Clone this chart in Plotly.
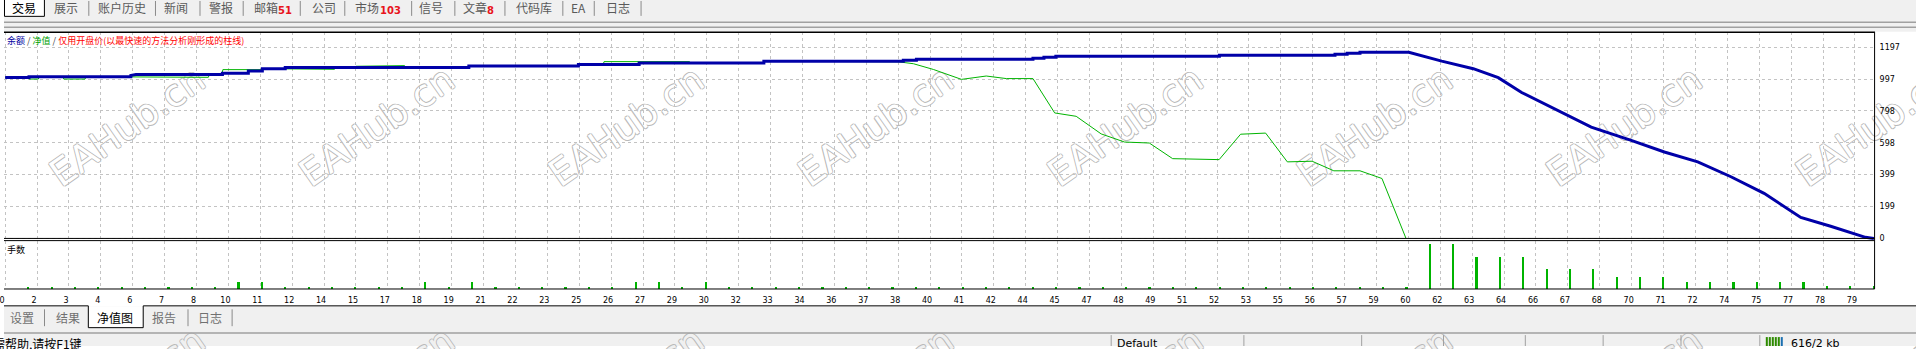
import plotly.graph_objects as go

W, H = 1916, 349

# ---------------- data ----------------
X_LABELS = [0, 2, 3, 4, 6, 7, 8, 10, 11, 12, 14, 15, 17, 18, 19, 21, 22, 23, 25, 26,
            27, 29, 30, 32, 33, 34, 36, 37, 38, 40, 41, 42, 44, 45, 47, 48, 49, 51, 52, 53,
            55, 56, 57, 59, 60, 62, 63, 64, 66, 67, 68, 70, 71, 72, 74, 75, 77, 78, 79]
GRID_STEP = 1.3653          # trades per grid cell of the tester graph
Y_TICKS = [0, 199, 399, 598, 798, 997, 1197]

TRADES = list(range(1, 81))
LOTS = [0.01, 0.01, 0.01, 0.01, 0.01, 0.01, 0.01, 0.01, 0.01, 0.03,
        0.03, 0.01, 0.01, 0.01, 0.01, 0.01, 0.01, 0.03, 0.01, 0.03,
        0.01, 0.01, 0.01, 0.01, 0.01, 0.01, 0.03, 0.03, 0.01, 0.03,
        0.01, 0.01, 0.01, 0.01, 0.01, 0.01, 0.01, 0.01, 0.01, 0.01,
        0.01, 0.01, 0.01, 0.01, 0.01, 0.01, 0.01, 0.01, 0.01, 0.01,
        0.01, 0.01, 0.01, 0.01, 0.01, 0.01, 0.01, 0.01, 0.01, 0.01,
        0.18, 0.18, 0.13, 0.13, 0.13, 0.08, 0.08, 0.08, 0.047, 0.047,
        0.047, 0.03, 0.03, 0.03, 0.03, 0.03, 0.03, 0.013, 0.013, 0.013]

BALANCE = [(0.00, 1006), (1.02, 1006), (1.02, 1012), (5.38, 1012), (5.38, 1020), (5.60, 1026),
           (9.30, 1026), (9.30, 1034), (10.41, 1034), (10.41, 1047), (11.01, 1047), (11.01, 1062),
           (11.99, 1062), (11.99, 1070), (19.85, 1070), (19.85, 1078), (24.54, 1078), (24.54, 1088),
           (27.14, 1088), (27.14, 1098), (32.48, 1098), (32.48, 1109), (38.45, 1109), (38.45, 1115),
           (39.01, 1115), (39.01, 1121), (44.00, 1121), (44.00, 1127), (44.47, 1127), (44.47, 1134),
           (44.98, 1134), (44.98, 1140), (51.98, 1140), (51.98, 1146), (56.93, 1146), (56.93, 1152),
           (57.45, 1152), (57.45, 1158), (58.00, 1158), (58.00, 1165), (60.09, 1165), (61.50, 1109),
           (62.85, 1062), (63.92, 1006), (64.92, 913), (66.06, 830), (67.90, 696), (69.61, 613),
           (71.03, 541), (72.46, 479), (73.88, 386), (75.30, 282), (76.87, 131), (78.15, 76),
           (79.64, 7), (80.00, 0)]

EQUITY = [(0.00, 1006), (0.98, 1006), (1.02, 997), (1.42, 997), (1.46, 1012), (2.47, 1012),
          (2.51, 997), (3.42, 997), (3.46, 1012), (5.60, 1012), (5.64, 1008), (8.70, 1008),
          (8.74, 1026), (9.28, 1026), (9.32, 1056), (11.00, 1056), (11.04, 1062), (11.98, 1062),
          (12.02, 1058), (14.10, 1058), (14.14, 1070), (14.98, 1070), (15.02, 1077), (17.10, 1081),
          (17.14, 1070), (19.85, 1070), (19.89, 1078), (24.54, 1078), (24.58, 1088), (25.60, 1088),
          (25.64, 1106), (29.30, 1106), (29.34, 1098), (32.48, 1098), (32.52, 1109), (38.20, 1109),
          (38.24, 1105), (38.88, 1093), (39.74, 1057), (40.94, 995), (42.00, 1016), (42.86, 1000),
          (44.00, 1000), (44.93, 785), (45.85, 764), (46.92, 654), (47.92, 603), (48.98, 597),
          (49.98, 499), (51.97, 493), (52.89, 652), (53.96, 659), (54.89, 479), (55.95, 483),
          (56.88, 423), (58.00, 423), (58.94, 375), (59.97, 0)]

TOP_TABS = ["交易", "展示", "账户历史", "新闻", "警报", "邮箱", "公司", "市场", "信号", "文章", "代码库", "EA", "日志"]
TOP_BADGES = [("51", 5), ("103", 7), ("8", 9)]
BOTTOM_TABS = ["设置", "结果", "净值图", "报告", "日志"]
LEGEND_TEXT = ("余额", "净值", "仅用开盘价(以最快速的方法分析刚形成的柱线)")
LOTS_TITLE = "手数"
STATUS_HELP = "如需帮助,请按F1键"
STATUS_PROFILE = "Default"
STATUS_TRAFFIC = "616/2 kb"
WATERMARK = "EAHub.cn"

# ---------------- layout geometry (pixels) ----------------
PLOT_R = 1874.5
X_RANGE = [-0.05, 80.03]
Y_PIX_PER_UNIT = 0.16124
Y_ZERO_PX = 240.5
TOP_PANEL = (32.5, 242.0)
LOT_PANEL = (243.0, 291.5)
LOT_RANGE = [0, 0.194]

CJK = "Noto Sans CJK SC"
NUM = "DejaVu Sans"
GRID = "#c3c3c3"


def fx(x):
    return x / W


def fy(y):
    return 1 - y / H


fig = go.Figure()

fig.add_trace(go.Scatter(x=[p[0] for p in EQUITY], y=[p[1] for p in EQUITY], mode="lines",
                         line=dict(color="#00b400", width=1), xaxis="x2", yaxis="y",
                         hoverinfo="skip", showlegend=False))
fig.add_trace(go.Scatter(x=[p[0] for p in BALANCE], y=[p[1] for p in BALANCE], mode="lines",
                         line=dict(color="#0000a8", width=3), xaxis="x2", yaxis="y",
                         hoverinfo="skip", showlegend=False))
fig.add_trace(go.Bar(x=TRADES, y=LOTS, width=0.07, marker=dict(color="#00b400", line=dict(width=0)),
                     xaxis="x", yaxis="y2", hoverinfo="skip", showlegend=False))

tickvals = [j * GRID_STEP for j in range(len(X_LABELS))]
xdomain = [0, fx(PLOT_R)]
y_lo = (Y_ZERO_PX - TOP_PANEL[1]) / Y_PIX_PER_UNIT
y_hi = (Y_ZERO_PX - TOP_PANEL[0]) / Y_PIX_PER_UNIT

fig.update_layout(
    width=W, height=H, autosize=False,
    margin=dict(l=0, r=0, t=0, b=0, pad=0),
    paper_bgcolor="white", plot_bgcolor="white",
    showlegend=False, bargap=0,
    xaxis=dict(domain=xdomain, range=X_RANGE, anchor="y2", tickmode="array",
               tickvals=tickvals, ticktext=[str(v) for v in X_LABELS],
               showgrid=True, gridcolor=GRID, griddash="3px,3px", gridwidth=1,
               zeroline=False, showline=False, ticks="", ticklabelshift=-3,
               ticklabelstandoff=5, ticklabeloverflow="allow",
               tickfont=dict(family=NUM, size=8, color="black")),
    xaxis2=dict(domain=xdomain, matches="x", anchor="y", tickmode="array",
                tickvals=tickvals, showticklabels=False,
                showgrid=True, gridcolor=GRID, griddash="3px,3px", gridwidth=1,
                zeroline=False, showline=False, ticks=""),
    yaxis=dict(domain=[fy(TOP_PANEL[1]), fy(TOP_PANEL[0])], range=[y_lo, y_hi],
               anchor="x2", side="right", tickmode="array", tickvals=Y_TICKS,
               ticktext=[str(v) for v in Y_TICKS],
               showgrid=True, gridcolor=GRID, griddash="3px,3px", gridwidth=1,
               zeroline=False, showline=False, ticks="", ticklabelstandoff=4,
               tickfont=dict(family=NUM, size=8, color="black")),
    yaxis2=dict(domain=[fy(LOT_PANEL[1]), fy(LOT_PANEL[0])], range=LOT_RANGE,
                anchor="x", showgrid=False, zeroline=False, showticklabels=False,
                showline=False, ticks=""),
)

shapes = []


def rect(x0, y0, x1, y1, fill, line=None, layer="above"):
    shapes.append(dict(type="rect", xref="paper", yref="paper", x0=fx(x0), x1=fx(x1),
                       y0=fy(y1), y1=fy(y0), fillcolor=fill, layer=layer,
                       line=dict(width=1 if line else 0, color=line or "rgba(0,0,0,0)")))


def hline(y, x0, x1, color, width=1):
    shapes.append(dict(type="line", xref="paper", yref="paper", x0=fx(x0), x1=fx(x1),
                       y0=fy(y), y1=fy(y), line=dict(color=color, width=width)))


def vline(x, y0, y1, color, width=1):
    shapes.append(dict(type="line", xref="paper", yref="paper", x0=fx(x), x1=fx(x),
                       y0=fy(y0), y1=fy(y1), line=dict(color=color, width=width)))


# background bars (window chrome)
rect(0, 0, W, 32, "#f0f0f0", layer="below")
rect(0, 309, W, H, "#f0f0f0", layer="below")

# watermarks (outlined text, under the chart content)
for row_y, fill in ((125, "white"), (388, "#f0f0f0")):
    for k in range(8):
        cx = 122 + 250 * k
        shapes.append(dict(type="rect", xref="paper", yref="paper",
                           x0=fx(cx - 1), x1=fx(cx + 1), y0=fy(row_y + 1), y1=fy(row_y - 1),
                           layer="below", line=dict(width=0), fillcolor="rgba(0,0,0,0)",
                           label=dict(text=WATERMARK, textangle=-35, textposition="middle center",
                                      font=dict(family="DejaVu Sans", size=37, color=fill,
                                                shadow="1px 0 0 #b9b9b9, -1px 0 0 #b9b9b9, 0 1px 0 #b9b9b9, 0 -1px 0 #b9b9b9"))))

# top tab bar
rect(0.5, -1, 40.5, 16.5, "white", line="black")
for sx in [85, 151.8, 196.4, 239.7, 296.9, 341.5, 408.5, 451.8, 502, 560, 591.5, 638.4]:
    vline(sx, 1, 16, "#8a8a8a")
hline(22.5, 0, W, "#a0a0a0", 1.5)
hline(27.5, 0, W, "#a0a0a0", 1.5)

# chart frame
hline(32.5, 0, PLOT_R, "black", 1.5)
vline(PLOT_R, 32, 291.5, "black")
hline(240.5, 0, PLOT_R, "black")
hline(242.7, 0, PLOT_R, "black")
hline(291.5, 0, PLOT_R, "black")

# bottom tabs
hline(308.5, 0, 84.5, "black")
hline(308.5, 139.5, W, "black")
rect(84.5, 309, 139.5, 330.5, "white")
vline(84.5, 308.5, 330.5, "black")
vline(139.5, 308.5, 330.5, "black")
hline(330.5, 84.5, 139.5, "black")
for sx in [40.6, 184.4, 228.6]:
    vline(sx, 312, 329, "#8a8a8a")
hline(335.8, 0, W, "#a0a0a0", 1.5)

# status bar
for sx in [1109, 1242, 1360, 1442, 1524, 1602, 1680, 1759]:
    vline(sx + 0.5, 338, H, "#a0a0a0")
for i in range(6):
    vline(1766.5 + 3 * i, 340, H, "#2e8b00" if i < 5 else "#1a6fb0", 2)

fig.update_layout(shapes=shapes)


def text(x, y, s, size, color, xanchor="center", family=CJK, weight=None):
    f = dict(family=family, size=size, color=color)
    if weight:
        f["weight"] = weight
    fig.add_annotation(x=fx(x), y=fy(y), xref="paper", yref="paper", text=s, showarrow=False,
                       xanchor=xanchor, yanchor="middle", font=f, borderpad=0)


tab_x = [20, 62.5, 118.3, 172.8, 217.3, 262.3, 320.3, 364, 428, 472, 530.7, 575.8, 615.3]
for i, (name, x) in enumerate(zip(TOP_TABS, tab_x)):
    text(x, 8, name, 12, "black" if i == 0 else "#5a5a5a")
badge_x = {5: 281.5, 7: 387, 9: 488}
for s, idx in TOP_BADGES:
    text(badge_x[idx], 11, s, 10, "#e8141c", weight="bold", family="DejaVu Sans")

legend = (f'<span style="color:#0000a0">{LEGEND_TEXT[0]}</span>'
          f'<span style="color:#404040"> / </span>'
          f'<span style="color:#00a000">{LEGEND_TEXT[1]}</span>'
          f'<span style="color:#404040"> / </span>'
          f'<span style="color:#ff0000">{LEGEND_TEXT[2]}</span>')
text(2, 41, legend, 9, "black", xanchor="left")
text(2, 251.5, LOTS_TITLE, 9, "black", xanchor="left")

btab_x = [18, 63.7, 111.6, 160.7, 206.5]
for name, x in zip(BOTTOM_TABS, btab_x):
    text(x, 320, name, 12, "black" if name == "净值图" else "#707070")

text(79, 346, STATUS_HELP, 12, "black", xanchor="right")
text(1114, 346, STATUS_PROFILE, 11, "black", xanchor="left", family="DejaVu Sans")
text(1790, 346, STATUS_TRAFFIC, 11, "black", xanchor="left", family="DejaVu Sans")

fig.write_html("out.html")
